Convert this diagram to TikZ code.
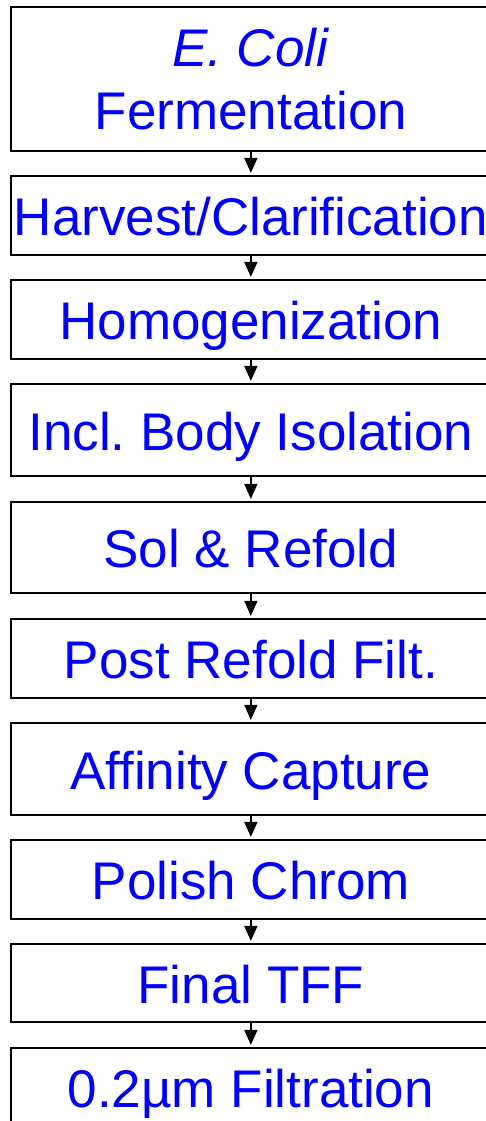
\documentclass[tikz,border=0pt]{standalone}
\usepackage{fontspec}
\setmainfont{Liberation Sans}
\usetikzlibrary{arrows.meta}
\definecolor{txtblue}{RGB}{0,0,255}
\frenchspacing
\tikzset{
  stepbox/.style={draw=black, line width=2.2pt, rectangle, minimum width=480.3pt, inner sep=0pt,
    text=txtblue, font=\fontsize{53}{63}\selectfont, text height=40pt, text depth=0pt},
  flow/.style={line width=1.5pt, -{Triangle[width=13pt,length=15pt]}, shorten >=2pt}
}
\begin{document}
\begin{tikzpicture}[x=1pt,y=-1pt]
\useasboundingbox (0,0) rectangle (485,1121);
\node[stepbox, minimum height=144pt, align=center, text height=102pt, text depth=0pt] (b1) at (250.85,79) {\textit{E. Coli}\\Fermentation};
\node[stepbox, minimum height=79pt] (b2) at (250.85,215.5) {Harvest/Clarification};
\node[stepbox, minimum height=79pt] (b3) at (250.85,319.5) {Homogenization};
\node[stepbox, minimum height=92pt] (b4) at (250.85,430) {Incl. Body Isolation};
\node[stepbox, minimum height=91pt] (b5) at (250.85,547.5) {Sol \& Refold};
\node[stepbox, minimum height=79pt] (b6) at (250.85,658.5) {Post Refold Filt.};
\node[stepbox, minimum height=92pt] (b7) at (250.85,769) {Affinity Capture};
\node[stepbox, minimum height=79pt] (b8) at (250.85,879.5) {Polish Chrom};
\node[stepbox, minimum height=78pt] (b9) at (250.85,983) {Final TFF};
\node[stepbox, minimum height=79pt] (b10) at (250.85,1087.5) {0.2µm Filtration};
\foreach \a/\b in {b1/b2,b2/b3,b3/b4,b4/b5,b5/b6,b6/b7,b7/b8,b8/b9,b9/b10}
  \draw[flow] (\a.south) -- (\b.north);
\end{tikzpicture}
\end{document}
